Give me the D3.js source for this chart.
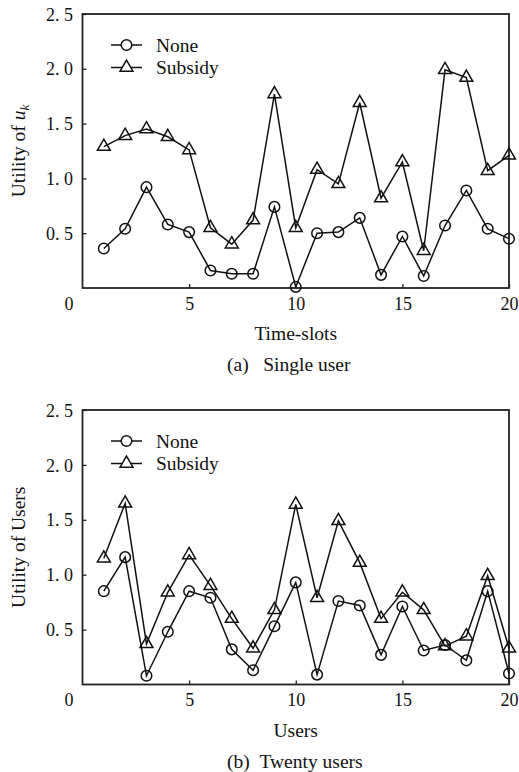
<!DOCTYPE html>
<html>
<head>
<meta charset="utf-8">
<script src="https://cdn.jsdelivr.net/npm/d3@7"></script>
<style>
  html, body { margin: 0; padding: 0; background: #fff; }
  svg { display: block; }
  text { font-family: "Liberation Serif", "Times New Roman", serif; fill: #111; }
</style>
</head>
<body>
<svg id="chart" width="519" height="772"></svg>
<script>
// ---- data ----
const slots = [1,2,3,4,5,6,7,8,9,10,11,12,13,14,15,16,17,18,19,20];
const singleNone    = [0.36,0.54,0.92,0.58,0.51,0.16,0.13,0.13,0.74,0.01,0.50,0.51,0.64,0.12,0.47,0.11,0.57,0.89,0.54,0.45];
const singleSubsidy = [1.29,1.39,1.45,1.38,1.26,0.55,0.40,0.62,1.77,0.55,1.08,0.95,1.69,0.82,1.15,0.34,1.99,1.92,1.07,1.21];
const twentyNone    = [0.85,1.16,0.08,0.48,0.85,0.79,0.32,0.13,0.53,0.93,0.09,0.76,0.72,0.27,0.71,0.31,0.36,0.22,0.85,0.10];
const twentySubsidy = [1.15,1.65,0.37,0.84,1.18,0.90,0.60,0.33,0.68,1.64,0.79,1.49,1.11,0.60,0.84,0.68,0.35,0.44,0.99,0.33];
const xTicks = [5,10,15,20];
const yTicks = [0.5,1.0,1.5,2.0,2.5];
const seriesNames = ["None","Subsidy"];
const panelTitles = ["Time-slots","Users"];
const panelCaptions = ["(a)\u00a0\u00a0 Single user","(b)\u00a0\u00a0Twenty users"];

const svg = d3.select("#chart");
const left = 82.5, right = 509;

function panel(top, bottom, noneVals, subVals, xTitle, caption, yTitleFn) {
  const g = svg.append("g");
  const x = d3.scaleLinear().domain([0,20]).range([left,right]);
  const y = d3.scaleLinear().domain([0,2.5]).range([bottom,top]);

  // axes with inward ticks
  const xa = g.append("g").attr("transform",`translate(0,${bottom})`)
    .call(d3.axisBottom(x).tickValues(xTicks).tickSizeInner(-4).tickSizeOuter(0).tickPadding(9).tickFormat(d3.format("d")));
  const ya = g.append("g").attr("transform",`translate(${left},0)`)
    .call(d3.axisLeft(y).tickValues(yTicks).tickSizeInner(-4).tickSizeOuter(0).tickPadding(9.5)
      .tickFormat(d => d3.format(".1f")(d).replace(".", ". ")));
  [xa, ya].forEach(a => {
    a.select(".domain").remove();
    a.selectAll(".tick line").attr("stroke","#222").attr("stroke-width",1.3);
    a.selectAll(".tick text").style("font-family","Liberation Serif").style("font-size","18px").attr("fill","#111").style("white-space","pre");
  });
  ya.selectAll(".tick text").attr("dy","0.34em");
  xa.selectAll(".tick text").attr("dy","0.72em");
  // origin label
  g.append("text").attr("x", x(0) - 13.5).attr("y", bottom + 9 ).attr("dy","0.72em")
    .attr("text-anchor","middle").style("font-size","18px").text("0");

  // frame
  g.append("rect").attr("x",left).attr("y",top).attr("width",right-left).attr("height",bottom-top)
    .attr("fill","none").attr("stroke","#222").attr("stroke-width",1.8);

  const line = d3.line().x((d,i)=>x(slots[i])).y(d=>y(d));
  const sets = [noneVals, subVals];
  const tri = d3.symbol().type(d3.symbolTriangle).size(72);
  sets.forEach((vals, si) => {
    g.append("path").datum(vals).attr("d", line).attr("fill","none").attr("stroke","#111").attr("stroke-width",1.5);
    const m = g.selectAll(null).data(vals).enter();
    if (si === 0) {
      m.append("circle").attr("cx",(d,i)=>x(slots[i])).attr("cy",d=>y(d)).attr("r",5.3)
        .attr("fill","none").attr("stroke","#111").attr("stroke-width",1.5);
    } else {
      m.append("path").attr("d",tri).attr("transform",(d,i)=>`translate(${x(slots[i])},${y(d)})`)
        .attr("fill","none").attr("stroke","#111").attr("stroke-width",1.5);
    }
  });

  // legend
  seriesNames.forEach((name, si) => {
    const ly = top + 31 + si*22.5;
    g.append("line").attr("x1",111).attr("x2",142).attr("y1",ly).attr("y2",ly).attr("stroke","#111").attr("stroke-width",1.5);
    if (si === 0) g.append("circle").attr("cx",126.5).attr("cy",ly).attr("r",5.3).attr("fill","#fff").attr("stroke","#111").attr("stroke-width",1.5);
    else g.append("path").attr("d",tri).attr("transform",`translate(126.5,${ly})`).attr("fill","#fff").attr("stroke","#111").attr("stroke-width",1.5);
    g.append("text").attr("x",156).attr("y",ly).attr("dy","0.35em").style("font-size","19.5px").text(name);
  });

  // titles
  g.append("text").attr("x",(left+right)/2).attr("y",bottom+52).attr("text-anchor","middle")
    .style("font-size","19.5px").text(xTitle);
  g.append("text").attr("x",227).attr("y",bottom+83).style("font-size","19.5px").text(caption);
  const yt = g.append("text").attr("transform",`translate(25,${(top+bottom)/2}) rotate(-90)`)
    .attr("text-anchor","middle").style("font-size","19.5px");
  yTitleFn(yt);
}

panel(14, 288, singleNone, singleSubsidy, panelTitles[0], panelCaptions[0], t => {
  t.append("tspan").text("Utility of ");
  t.append("tspan").style("font-style","italic").text("u");
  t.append("tspan").style("font-style","italic").style("font-size","13px").attr("dy","4").text("k");
});
panel(410, 684.5, twentyNone, twentySubsidy, panelTitles[1], panelCaptions[1], t => {
  t.text("Utility of Users");
});
</script>
</body>
</html>
